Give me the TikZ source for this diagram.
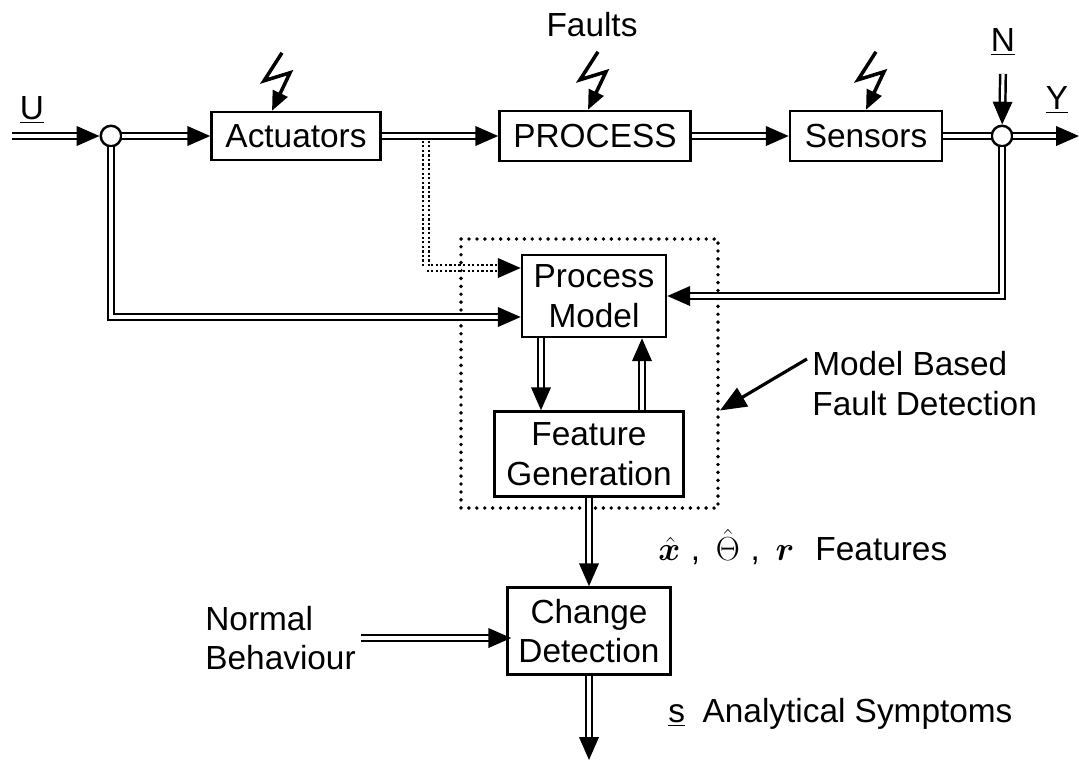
\documentclass[tikz,border=0pt]{standalone}
\usepackage{fix-cm}
\usepackage{bm}
\usepackage{fontspec}
\setmainfont{Liberation Sans}
\usetikzlibrary{arrows.meta,positioning,calc}

\begin{document}
\begin{tikzpicture}[
    x=0.2mm, y=-0.2mm,
    font=\fontsize{19}{22.7}\selectfont,
    block/.style={rectangle, draw, line width=1.4pt, align=center, inner sep=2pt},
    junction/.style={circle, draw, line width=1.4pt, fill=white, minimum size=4.1mm, inner sep=0pt},
    txt/.style={align=left, inner sep=0pt},
    dbl/.style={double, double distance=1.8pt, line width=1.4pt, -{Triangle[length=13pt, width=11pt]}},
    dbldot/.style={dbl, dash pattern=on 1.3pt off 1.3pt},
    bolt/.style={line width=2pt, line join=miter, -{Triangle[length=11pt, width=9pt]}},
    pointer/.style={line width=1.8pt, -{Triangle[length=15pt, width=12pt]}},
    dotbox/.style={draw, line width=2.2pt, line cap=round, dash pattern=on 0pt off 4.5pt}
]
    \useasboundingbox (0,0) rectangle (1079,761);

    % plant row
    \node[junction] (uj) at (111,136) {};
    \node[block, minimum width=33.8mm, minimum height=9.6mm] (act) at (296,136) {Actuators};
    \node[block, minimum width=38.2mm, minimum height=10mm] (proc) at (595,136) {PROCESS};
    \node[block, minimum width=30.4mm, minimum height=10mm] (sens) at (866,136) {Sensors};
    \node[junction] (yj) at (1002,136) {};
    \coordinate (uin) at (12,136);
    \coordinate (yout) at (1079,136);
    \coordinate (tap) at (426,136);

    \node (ulbl) at (32,110) {\underline{U}};
    \node (ylbl) at (1057,100) {\underline{Y}};
    \node (nlbl) at (1003,42) {\underline{N}};
    \node (faults) at (592,25) {Faults};

    % detection part
    \node[dotbox, minimum width=51.4mm, minimum height=53.8mm] (mbfd) at (589.5,373.5) {};
    \node[block, minimum width=28.8mm, minimum height=16.4mm] (pm) at (594,296) {Process\\Model};
    \node[block, minimum width=37.8mm, minimum height=17mm] (fg) at (589,454) {Feature\\Generation};
    \node[block, minimum width=32.6mm, minimum height=17.4mm] (cd) at (589,631) {Change\\Detection};
    \coordinate (sbot) at (589,760);

    \node[txt, anchor=west] (mbfdlbl) at (812,384) {Model Based\\Fault Detection};
    \node[txt, anchor=west] (feat) at (658,547) {$\bm{\hat{x}}$\hspace{6pt},\hspace{9pt}$\hat{\Theta}$\hspace{6pt},\hspace{9pt}$\bm{r}$\hspace{12pt}Features};
    \node[txt, anchor=west] (nb) at (205,638) {Normal\\Behaviour};
    \node[txt, anchor=west] (symp) at (668,714) {\underline{s}\hspace{10pt}Analytical Symptoms};

    % faults acting on the plant
    \draw[bolt] ($(act.north)+(-14,-58)$) -- ++(-18,28) -- ++(26,-8) -- ($(act.north)+(-24,0)$);
    \draw[bolt] ($(proc.north)+(3,-58)$) -- ++(-18,28) -- ++(26,-8) -- ($(proc.north)+(-7,0)$);
    \draw[bolt] ($(sens.north)+(10,-58)$) -- ++(-18,28) -- ++(26,-8) -- (sens.north);

    % signal flow
    \draw[dbldot] (tap) |- ($(pm.west)+(0,-28)$);
    \draw[dbl] (uin) -- (uj);
    \draw[dbl] (uj) -- (act);
    \draw[dbl] (act) -- (proc);
    \draw[dbl] (proc) -- (sens);
    \draw[dbl, -] (sens) -- (yj);
    \draw[dbl] (yj) -- (yout);
    \draw[dbl] ([yshift=-2.5mm]nlbl.south) -- (yj);

    \draw[dbl] (uj) |- ($(pm.west)+(0,21)$);
    \draw[dbl] (yj) |- (pm.east);

    \coordinate (pmdown) at ($(pm.south)+(-53,0)$);
    \coordinate (fgup) at ($(fg.north)+(53,0)$);
    \draw[dbl] (pmdown) -- (pmdown |- fg.north);
    \draw[dbl] (fgup) -- (fgup |- pm.south);
    \draw[dbl] (fg) -- (cd);
    \draw[dbl] ([xshift=1mm]nb.east) -- ([xshift=1mm]nb.east -| cd.west);
    \draw[dbl] (cd) -- (sbot);

    \draw[pointer] ([xshift=-1mm, yshift=-1.5mm]mbfdlbl.north west) -- ($(mbfd.east)+(0,37)$);
\end{tikzpicture}
\end{document}
